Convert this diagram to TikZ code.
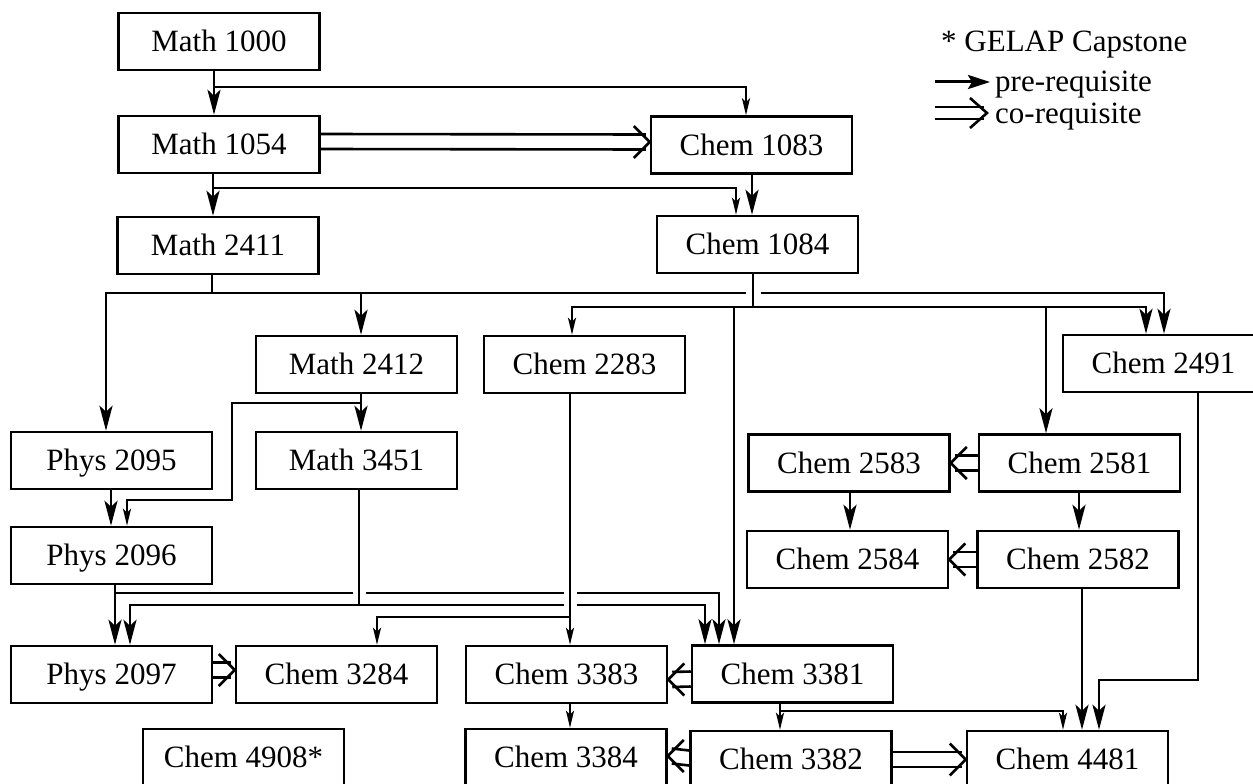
\documentclass[tikz,border=0pt]{standalone}
\usepackage{fontspec}
\setmainfont{Liberation Serif}
\usetikzlibrary{arrows.meta}
\tikzset{
  box/.style={draw, line width=2.5pt, minimum width=201pt, minimum height=57pt,
    inner sep=0pt, font=\fontsize{31}{36}\selectfont, text height=20.5pt, text depth=0pt},
  legend/.style={inner sep=2pt, font=\fontsize{31}{36}\selectfont},
  pre/.style={line width=2.9pt, -{Stealth[length=25pt,width=13pt,inset=6pt]}},
  presmall/.style={line width=2.2pt, -{Stealth[length=17pt,width=8pt,inset=4pt]}},
  legpre/.style={line width=3pt, -{Stealth[length=22pt,width=14pt,inset=4pt]}},
  wire/.style={line width=2.9pt},
  coline/.style={line width=2.6pt, line cap=butt, line join=miter}
}
% co-requisite to the right: #1 source, #2 target, #3 vertical offset (up positive)
\newcommand\coRight[3]{%
  \draw[coline] ([yshift=#3+7.5pt]#1.east) -- ([yshift=#3+7.5pt,xshift=-4pt]#2.west);
  \draw[coline] ([yshift=#3-7.5pt]#1.east) -- ([yshift=#3-7.5pt,xshift=-4pt]#2.west);
  \draw[coline] ([yshift=#3+16pt,xshift=-16pt]#2.west) -- ([yshift=#3]#2.west) -- ([yshift=#3-16pt,xshift=-16pt]#2.west);}
% co-requisite to the left
\newcommand\coLeft[3]{%
  \draw[coline] ([yshift=#3+7.5pt]#1.west) -- ([yshift=#3+7.5pt,xshift=4pt]#2.east);
  \draw[coline] ([yshift=#3-7.5pt]#1.west) -- ([yshift=#3-7.5pt,xshift=4pt]#2.east);
  \draw[coline] ([yshift=#3+16pt,xshift=16pt]#2.east) -- ([yshift=#3]#2.east) -- ([yshift=#3-16pt,xshift=16pt]#2.east);}
\begin{document}
\begin{tikzpicture}[x=1pt,y=-1pt]
\useasboundingbox (0,0) rectangle (1253,784);
\clip (0,0) rectangle (1253,784);
% nodes
\node[box] (m1000) at (219,41.5) {Math 1000};
\node[box] (m1054) at (219,144.5) {Math 1054};
\node[box] (m2411) at (218,245.5) {Math 2411};
\node[box] (c1083) at (751.5,145) {Chem 1083};
\node[box] (c1084) at (757.5,244.5) {Chem 1084};
\node[box] (m2412) at (356.5,364.5) {Math 2412};
\node[box] (m3451) at (356.5,460.5) {Math 3451};
\node[box] (p2095) at (111.5,460.5) {Phys 2095};
\node[box] (p2096) at (111.5,555.5) {Phys 2096};
\node[box] (p2097) at (111.5,674.5) {Phys 2097};
\node[box] (c3284) at (336.5,674.5) {Chem 3284};
\node[box] (c4908) at (243.5,757.5) {Chem 4908*};
\node[box] (c2283) at (584.5,364.5) {Chem 2283};
\node[box] (c2491) at (1163.5,363.5) {Chem 2491};
\node[box] (c2583) at (849,463) {Chem 2583};
\node[box] (c2581) at (1079.5,463) {Chem 2581};
\node[box] (c2584) at (847.5,559.5) {Chem 2584};
\node[box] (c2582) at (1078,559.5) {Chem 2582};
\node[box] (c3383) at (566.5,674.5) {Chem 3383};
\node[box] (c3381) at (792.5,674) {Chem 3381};
\node[box] (c3384) at (566,757.5) {Chem 3384};
\node[box] (c3382) at (791,759.5) {Chem 3382};
\node[box] (c4481) at (1067.5,759.5) {Chem 4481};
% legend
\node[legend, anchor=base west] (lg1) at (939,52) {* GELAP Capstone};
\node[legend, anchor=base west] (lg2) at (993,92) {pre-requisite};
\node[legend, anchor=base west] (lg3) at (993,123) {co-requisite};
\coordinate (lgpre) at (935,82);
\coordinate (lgco) at (935,113);
\coordinate (lgcotip) at (987,113);
\draw[legpre] (lgpre) -- ([xshift=-3pt]lgpre -| lg2.west);
\draw[coline] ([yshift=6pt]lgco) -- ([yshift=6pt,xshift=-3pt]lgcotip);
\draw[coline] ([yshift=-6pt]lgco) -- ([yshift=-6pt,xshift=-3pt]lgcotip);
\draw[coline] ([yshift=15pt,xshift=-17pt]lgcotip) -- (lgcotip) -- ([yshift=-15pt,xshift=-17pt]lgcotip);
% pre-requisites
\draw[pre] ([xshift=-5pt]m1000.south) -- ([xshift=-5pt]m1054.north);
\draw[presmall] ([xshift=-5pt]m1000.south) |- (746,87) -- ([xshift=-5.5pt]c1083.north);
\draw[pre] ([xshift=-6pt]m1054.south) -- ([xshift=-5pt]m2411.north);
\draw[presmall] ([xshift=-6pt]m1054.south) |- (736,188) -- ([xshift=-21.5pt]c1084.north);
\draw[pre] ([xshift=0.5pt]c1083.south) -- ([xshift=-5.5pt]c1084.north);
% Math 2411
\draw[pre] ([xshift=-6pt]m2411.south) |- (106,293) -- ([xshift=-5.5pt]p2095.north);
\draw[pre] ([xshift=-6pt]m2411.south) |- (361,293) -- ([xshift=4.5pt]m2412.north);
\draw[wire] ([xshift=-6pt]m2411.south) |- (746,293);
\draw[pre] (761,293) -| ([xshift=0.5pt]c2491.north);
% Chem 1084
\draw[presmall] ([xshift=-4.5pt]c1084.south) |- (572,307) -- ([xshift=-12.5pt]c2283.north);
\draw[pre] ([xshift=-4.5pt]c1084.south) |- (1146,307) -- ([xshift=-17.5pt]c2491.north);
\draw[pre] (734,307) -- ([xshift=-58.5pt]c3381.north);
\draw[pre] (1046,307) -- ([xshift=-33.5pt]c2581.north);
% Math 2412
\draw[pre] ([xshift=4.5pt]m2412.south) -- ([xshift=4.5pt]m3451.north);
\draw[presmall] ([xshift=4.5pt]m2412.south) |- (232,403) |- (127,500) -- ([xshift=15.5pt]p2096.north);
% Physics chain
\draw[pre] ([xshift=-0.5pt]p2095.south) -- ([xshift=-0.5pt]p2096.north);
\draw[pre] ([xshift=3.5pt]p2096.south) -- ([xshift=3.5pt]p2097.north);
\draw[wire] ([xshift=3.5pt]p2096.south) |- (353,593);
\draw[wire] (366,593) -- (564,593);
\draw[pre] (577,593) -| ([xshift=-73.5pt]c3381.north);
% Math 3451
\draw[pre] ([xshift=2.5pt]m3451.south) |- (130,605) -- ([xshift=18.5pt]p2097.north);
\draw[wire] (359,605) -- (564,605);
\draw[pre] (577,605) -| ([xshift=-87.5pt]c3381.north);
% Chem 2283
\draw[presmall] ([xshift=-14.5pt]c2283.south) -- ([xshift=3.5pt]c3383.north);
\draw[presmall] (570,617) -| ([xshift=40.5pt]c3284.north);
% 258x chain
\draw[pre] ([xshift=1pt]c2583.south) -- ([xshift=2.5pt]c2584.north);
\draw[pre] ([xshift=-0.5pt]c2581.south) -- ([xshift=1pt]c2582.north);
\draw[pre] ([xshift=34.5pt]c2491.south) |- (1099,680) -- ([xshift=31.5pt]c4481.north);
\draw[pre] ([xshift=4pt]c2582.south) -- ([xshift=14.5pt]c4481.north);
% Chem 3381 / 3383
\draw[presmall] ([xshift=-12.5pt]c3381.south) -- ([xshift=-11pt]c3382.north);
\draw[presmall] ([xshift=-12.5pt]c3381.south) |- (1063,711) -- ([xshift=-4.5pt]c4481.north);
\draw[presmall] ([xshift=3.5pt]c3383.south) -- ([xshift=4pt]c3384.north);
% co-requisites
\coRight{m1054}{c1083}{3pt}
\coLeft{c2581}{c2583}{0pt}
\coLeft{c2582}{c2584}{0pt}
\coRight{p2097}{c3284}{4.5pt}
\coLeft{c3381}{c3383}{-5pt}
\coLeft{c3382}{c3384}{1.5pt}
\coRight{c3382}{c4481}{0pt}
\end{tikzpicture}
\end{document}
